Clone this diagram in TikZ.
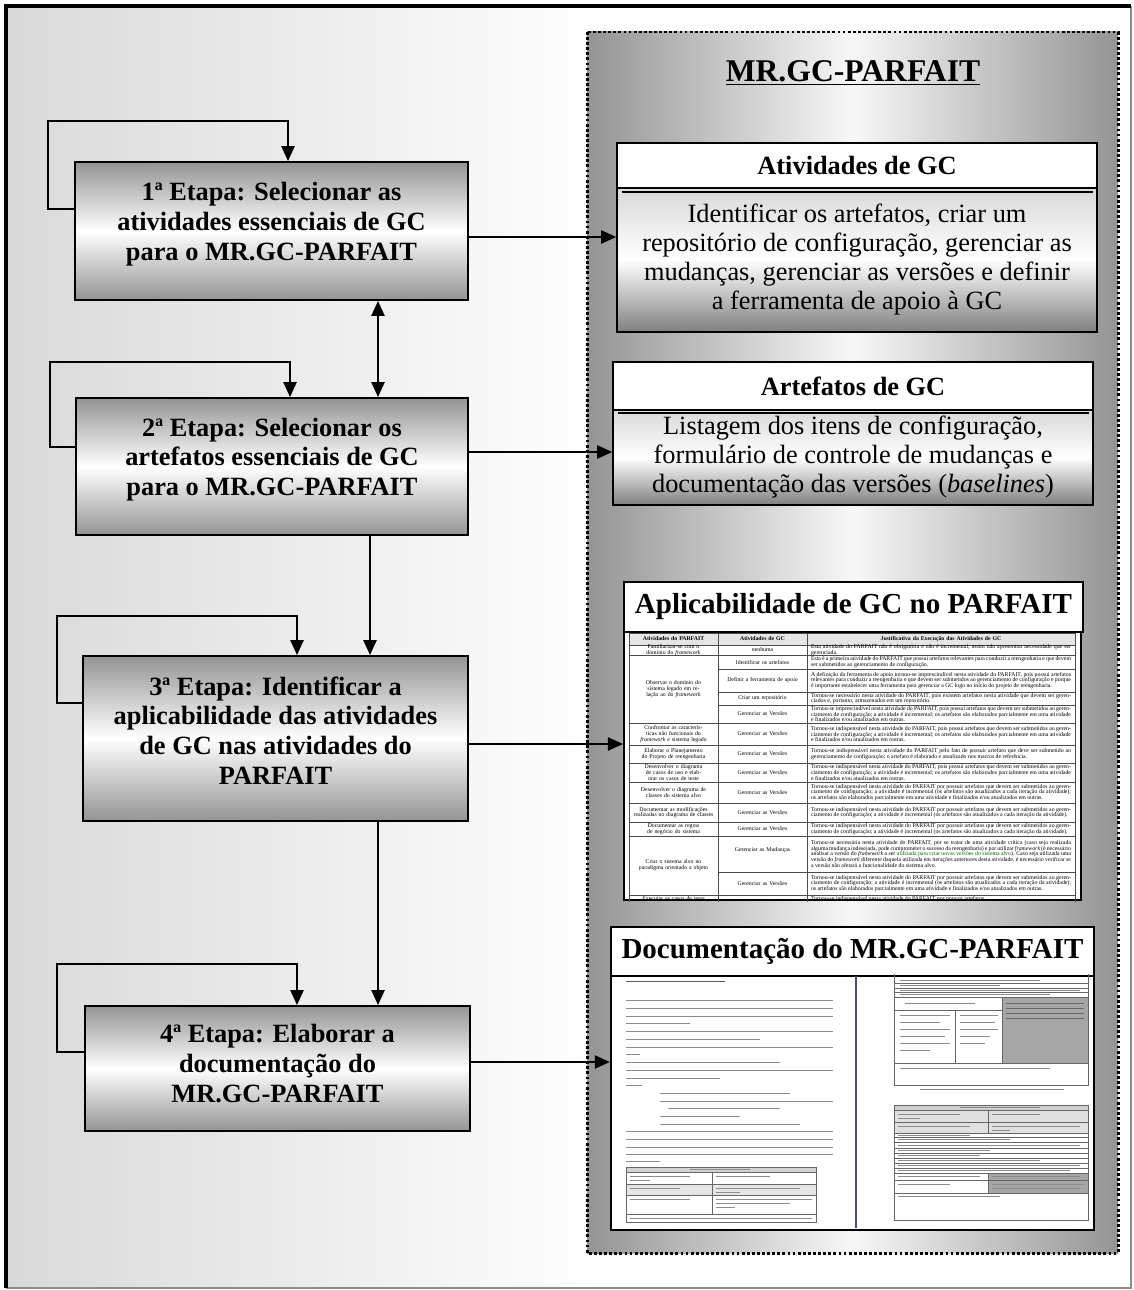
\documentclass[tikz,border=0pt]{standalone}
\usepackage{fontspec}
\setmainfont{Liberation Serif}
\usetikzlibrary{arrows.meta}

% textos repetidos da tabela
\newcommand{\jversoes}{Tornou-se indispensável nesta atividade do PARFAIT, pois possui artefatos que devem ser submetidos ao gerenciamento de configuração; a atividade é incremental; os artefatos são elaborados parcialmente em uma atividade e finalizados e/ou atualizados em outras.}
\newcommand{\jiteracao}{Tornou-se indispensável nesta atividade do PARFAIT por possuir artefatos que devem ser submetidos ao gerenciamento de configuração; a atividade é incremental (os artefatos são atualizados a cada iteração da atividade)}

\begin{document}
\begin{tikzpicture}[x=0.02cm, y=-0.02cm,
  etapa/.style={draw, line width=1.1pt, top color=black!42, bottom color=black!42, middle color=white,
    align=center, inner sep=0pt, font=\fontsize{15}{17}\selectfont\bfseries},
  titulo/.style={draw, line width=1pt, fill=white, inner sep=0pt, font=\fontsize{15}{17}\selectfont\bfseries},
  corpo/.style={draw, line width=1pt, top color=black!15, bottom color=black!50, middle color=white,
    align=center, inner sep=0pt, font=\fontsize{15}{16.5}\selectfont},
  seta/.style={line width=1pt, -{Triangle[length=8.5pt,width=7.5pt]}},
  seta2/.style={line width=1pt, {Triangle[length=8.5pt,width=7.5pt]}-{Triangle[length=8.5pt,width=7.5pt]}},
  cel/.style={font=\fontsize{3.3}{3.3}\selectfont, inner sep=0pt, align=center, text width=1.62cm},
  just/.style={font=\fontsize{3.3}{3.3}\selectfont, inner sep=0pt, align=justify, text width=5.2cm},
  grade/.style={black!70, line width=0.4pt},
  texto/.style={black!45, line width=0.55pt},
  forma/.style={black!60, line width=0.5pt}]

\useasboundingbox (0,0) rectangle (1133,1290);

% fundo e moldura
\fill[left color=black!15, right color=white] (6,6) rectangle (600,1288);
\fill[white] (600,6) rectangle (1131,1288);
\draw[black!45, line width=0.8pt] (1131,6) -- (1131,1288) -- (6,1288);
\draw[line width=2.4pt] (6,1288) -- (6,6) -- (1131,6);

% quadro MR.GC-PARFAIT
\draw[line width=1.7pt, dash pattern=on 1.6pt off 1.3pt, left color=black!42, right color=black!42, middle color=black!3]
  (587,32) rectangle (1118,1253);
\node[font=\fontsize{18}{20}\selectfont\bfseries] (mr) at (853,73) {\underline{MR.GC-PARFAIT}};

% etapas
\node[etapa, minimum width=7.86cm, minimum height=2.76cm] (etapa1) at (271.5,231)
  {1ª Etapa: Selecionar as\\atividades essenciais de GC\\para o MR.GC-PARFAIT\\[-6pt]\mbox{}};
\node[etapa, minimum width=7.84cm, minimum height=2.74cm] (etapa2) at (272,466.5)
  {2ª Etapa: Selecionar os\\artefatos essenciais de GC\\para o MR.GC-PARFAIT\\[-6pt]\mbox{}};
\node[etapa, minimum width=7.7cm, minimum height=3.3cm] (etapa3) at (275.5,738.5)
  {3ª Etapa: Identificar a\\aplicabilidade das atividades\\de GC nas atividades do\\PARFAIT\\[-8pt]\mbox{}};
\node[etapa, minimum width=7.7cm, minimum height=2.5cm] (etapa4) at (277.5,1068.5)
  {4ª Etapa: Elaborar a\\documentação do\\MR.GC-PARFAIT\\[-11pt]\mbox{}};

% atividades de GC
\node[corpo, minimum width=9.6cm, minimum height=2.88cm] (ativ) at (857,260)
  {Identificar os artefatos, criar um\\repositório de configuração, gerenciar as\\mudanças, gerenciar as versões e definir\\a ferramenta de apoio à GC};
\node[titulo, minimum width=9.6cm, minimum height=0.9cm] (ativtit) at (857,165.5) {Atividades de GC};
\draw[line width=1.4pt] (622,192) -- (1093,192);

% artefatos de GC
\node[corpo, minimum width=9.6cm, minimum height=1.9cm] (arte) at (853,457.5)
  {Listagem dos itens de configuração,\\formulário de controle de mudanças e\\documentação das versões (\textit{baselines})};
\node[titulo, minimum width=9.6cm, minimum height=0.96cm] (artetit) at (853,386) {Artefatos de GC};
\draw[line width=1.4pt] (618,413) -- (1089,413);

% aplicabilidade
\node[draw, line width=1.3pt, fill=white, minimum width=9.14cm, minimum height=5.36cm] (tabela) at (852.5,766) {};
\node[titulo, line width=1.3pt, minimum width=9.18cm, minimum height=1.0cm, font=\fontsize{16.5}{18}\selectfont\bfseries]
  (aplitit) at (853.5,607) {Aplicabilidade de GC no PARFAIT};

\begin{scope}
  \clip (tabela.north west) rectangle (tabela.south east);
  \fill[black!10] (629,633) rectangle (1075,645);
  \foreach \y in {633,645,655,723,745,763,782,803,822,836,895}
    \draw[grade] (629,\y) -- (1075,\y);
  \foreach \y in {669,692,705,872}
    \draw[grade] (718,\y) -- (1075,\y);
  \foreach \x in {629,718,807,1075}
    \draw[grade] (\x,633) -- (\x,905);
  \node[cel, font=\fontsize{3.3}{3.3}\selectfont\bfseries] at (673.5,639) {Atividades do PARFAIT};
  \node[cel, font=\fontsize{3.3}{3.3}\selectfont\bfseries] at (762.5,639) {Atividades de GC};
  \node[cel, text width=5.2cm, font=\fontsize{3.3}{3.3}\selectfont\bfseries] at (941,639) {Justificativa da Execução das Atividades de GC};
  % linhas
  \node[cel] at (673.5,650) {Familiarizar-se com o domínio do \textit{framework}};
  \node[cel] at (762.5,650) {nenhuma};
  \node[just] at (941,650) {Esta atividade do PARFAIT não é obrigatória e não é incremental, assim não apresentou necessidade que ser gerenciada.};
  \node[cel] at (673.5,689) {Observar o domínio do sistema legado em relação ao do \textit{framework}};
  \node[cel] at (762.5,662) {Identificar os artefatos};
  \node[just] at (941,662) {Esta é a primeira atividade do PARFAIT que possui artefatos relevantes para conduzir a reengenharia e que devem ser submetidos ao gerenciamento de configuração.};
  \node[cel] at (762.5,680.5) {Definir a ferramenta de apoio};
  \node[just] at (941,680.5) {A definição da ferramenta de apoio tornou-se imprescindível nesta atividade do PARFAIT, pois possui artefatos relevantes para conduzir a reengenharia e que devem ser submetidos ao gerenciamento de configuração e porque é importante estabelecer uma ferramenta para gerenciar a GC logo no início do projeto de reengenharia.};
  \node[cel] at (762.5,698.5) {Criar um repositório};
  \node[just] at (941,698.5) {Tornou-se necessário nesta atividade do PARFAIT, pois existem artefatos nesta atividade que devem ser gerenciados e, portanto, armazenados em um repositório.};
  \node[cel] at (762.5,714) {Gerenciar as Versões};
  \node[just] at (941,714) {Tornou-se imprescindível nesta atividade do PARFAIT, pois possui artefatos que devem ser submetidos ao gerenciamento de configuração; a atividade é incremental; os artefatos são elaborados parcialmente em uma atividade e finalizados e/ou atualizados em outras.};
  \node[cel] at (673.5,734) {Confrontar as características não funcionais do \textit{framework} e sistema legado};
  \node[cel] at (762.5,734) {Gerenciar as Versões};
  \node[just] at (941,734) {\jversoes};
  \node[cel] at (673.5,754) {Elaborar o Planejamento do Projeto de reengenharia};
  \node[cel] at (762.5,754) {Gerenciar as Versões};
  \node[just] at (941,754) {Tornou-se indispensável nesta atividade do PARFAIT pelo fato de possuir artefato que deve ser submetido ao gerenciamento de configuração; o artefato é elaborado e atualizado nos marcos de referência.};
  \node[cel] at (673.5,772.5) {Desenvolver o diagrama de casos de uso e elaborar os casos de teste};
  \node[cel] at (762.5,772.5) {Gerenciar as Versões};
  \node[just] at (941,772.5) {\jversoes};
  \node[cel] at (673.5,792.5) {Desenvolver o diagrama de classes do sistema alvo};
  \node[cel] at (762.5,792.5) {Gerenciar as Versões};
  \node[just] at (941,792.5) {\jiteracao; os artefatos são elaborados parcialmente em uma atividade e finalizados e/ou atualizados em outras.};
  \node[cel] at (673.5,812.5) {Documentar as modificações realizadas no diagrama de classes};
  \node[cel] at (762.5,812.5) {Gerenciar as Versões};
  \node[just] at (941,812.5) {\jiteracao.};
  \node[cel] at (673.5,829) {Documentar as regras de negócio do sistema};
  \node[cel] at (762.5,829) {Gerenciar as Versões};
  \node[just] at (941,829) {\jiteracao.};
  \node[cel] at (673.5,865.5) {Criar o sistema alvo no paradigma orientado a objeto};
  \node[cel] at (762.5,850) {Gerenciar as Mudanças};
  \node[just] at (941,854) {Tornou-se necessária nesta atividade do PARFAIT, por se tratar de uma atividade crítica (caso seja realizada alguma mudança indesejada, pode comprometer o sucesso da reengenharia) e por utilizar \textit{framework} (é necessário analisar a versão do \textit{framework} a ser \textcolor{green!40!black}{utilizada para criar novas versões do sistema alvo}). Caso seja utilizada uma versão do \textit{framework} diferente daquela utilizada em iterações anteriores desta atividade, é necessário verificar se a versão não afetará a funcionalidade do sistema alvo.};
  \node[cel] at (762.5,883.5) {Gerenciar as Versões};
  \node[just] at (941,883.5) {\jiteracao; os artefatos são elaborados parcialmente em uma atividade e finalizados e/ou atualizados em outras.};
  \node[cel, anchor=north] at (673.5,896) {Executar os casos de teste};
  \node[just, anchor=north] at (941,896) {Tornou-se indispensável nesta atividade do PARFAIT por possuir artefatos};
\end{scope}

% documentacao
\node[draw, line width=1.5pt, fill=white, minimum width=9.66cm, minimum height=5.08cm] (docimg) at (852.5,1103) {};
\node[titulo, line width=1.3pt, minimum width=9.66cm, minimum height=0.98cm, font=\fontsize{16.5}{18}\selectfont\bfseries]
  (doctit) at (852.5,951.5) {Documentação do MR.GC-PARFAIT};

\begin{scope}
  \clip (docimg.north west) rectangle (docimg.south east);
  \draw[line width=1.2pt, blue!20!black!70] (856,976) -- (856,1228);
  % pagina esquerda
  \draw[texto, black!65] (626,981) -- (725,981);
  \foreach \y/\a/\b in {1000/626/833, 1008/626/833, 1016/626/833, 1023/626/690, 1031/626/833,
      1039/626/760, 1047/626/833, 1054/626/640, 1062/626/780, 1070/626/833, 1078/626/720,
      1085/626/642, 1093/660/790, 1101/660/833, 1108/668/780, 1116/660/740, 1124/660/800,
      1131/626/833, 1139/626/833, 1147/626/833, 1154/626/833, 1161/626/660}
    \draw[texto] (\a,\y) -- (\b,\y);
  \fill[black!18] (626,1167) rectangle (816,1172);
  \fill[black!10] (626,1184) rectangle (816,1195);
  \draw[forma] (626,1167) rectangle (816,1222);
  \foreach \y in {1172,1184,1195,1214}
    \draw[forma] (626,\y) -- (816,\y);
  \draw[forma] (712,1172) -- (712,1214);
  \foreach \y/\a/\b in {1169.5/690/750, 1176/630/690, 1180/630/650, 1176/716/770, 1188/630/680,
      1188/716/800, 1192/716/740, 1199/630/690, 1199/716/812, 1203/716/790, 1207/716/735, 1218/630/812}
    \draw[texto] (\a,\y) -- (\b,\y);
  % pagina direita
  \fill[black!35] (1002,997) rectangle (1088,1063);
  \draw[forma] (894,970) -- (894,1085) -- (1088,1085) -- (1088,970);
  \foreach \y in {983,988,992,997,1063}
    \draw[forma] (894,\y) -- (1088,\y);
  \draw[forma] (894,1010) -- (1002,1010);
  \draw[forma] (1002,997) -- (1002,1063);
  \draw[forma] (955,1010) -- (955,1063);
  \foreach \y/\a/\b in {980/900/1040, 985.5/900/1000, 990/900/1080, 994.5/900/1050, 1003/905/975,
      1003/1008/1070, 1015/900/950, 1022/900/940, 1029/900/950, 1036/900/945, 1043/900/950,
      1050/900/930, 1015/960/998, 1022/960/995, 1029/960/998, 1036/960/990, 1043/960/985,
      1068/900/1050, 1089/920/1064}
    \draw[texto] (\a,\y) -- (\b,\y);
  \foreach \y in {1003,1008,1013,1018}
    \draw[texto, black!60] (1006,\y) -- (1084,\y);
  \fill[black!18] (894,1105) rectangle (1088,1110);
  \fill[black!12] (894,1110) rectangle (1088,1133);
  \fill[black!35] (988,1173) rectangle (1088,1193);
  \draw[forma] (894,1105) rectangle (1088,1220);
  \foreach \y in {1110,1122,1133,1137,1142,1148,1153,1158,1163,1168,1173,1180,1193}
    \draw[forma] (894,\y) -- (1088,\y);
  \draw[forma] (988,1110) -- (988,1133);
  \draw[forma] (988,1173) -- (988,1193);
  \foreach \y/\a/\b in {1107.5/960/1040, 1114/898/960, 1118/898/920, 1114/992/1040, 1126/898/970,
      1126/992/1080, 1130/992/1010, 1135/898/970, 1139.5/898/1010, 1145/898/1080, 1150.5/898/990,
      1155.5/898/980, 1160.5/898/1040, 1165.5/898/1080, 1170.5/898/1070, 1176/898/980, 1176/992/1080,
      1184/898/950, 1184/992/1084, 1188/992/1080, 1196/898/1000}
    \draw[texto] (\a,\y) -- (\b,\y);
\end{scope}

% pontos de retorno
\coordinate (r1) at (48,121);
\coordinate (r2) at (50,362);
\coordinate (r3) at (57,616);
\coordinate (r4) at (57,964);

% conexoes
\draw[seta] (etapa1.west |- 0,209) -| (r1) -| (288,0 |- etapa1.north);
\draw[seta] (etapa2.west |- 0,447) -| (r2) -| (290,0 |- etapa2.north);
\draw[seta] (etapa3.west |- 0,703) -| (r3) -| (297,0 |- etapa3.north);
\draw[seta] (etapa4.west |- 0,1052) -| (r4) -| (297,0 |- etapa4.north);

\draw[seta2] (378,0 |- etapa1.south) -- (378,0 |- etapa2.north);
\draw[seta] (370,0 |- etapa2.south) -- (370,0 |- etapa3.north);
\draw[seta] (378,0 |- etapa3.south) -- (378,0 |- etapa4.north);

\draw[seta] (etapa1.east |- 0,237) -- (ativ.west |- 0,237);
\draw[seta] (etapa2.east |- 0,452) -- (arte.west |- 0,452);
\draw[seta] (etapa3.east |- 0,744) -- (tabela.west |- 0,744);
\draw[seta] (etapa4.east |- 0,1062) -- (docimg.west |- 0,1062);
\end{tikzpicture}
\end{document}
